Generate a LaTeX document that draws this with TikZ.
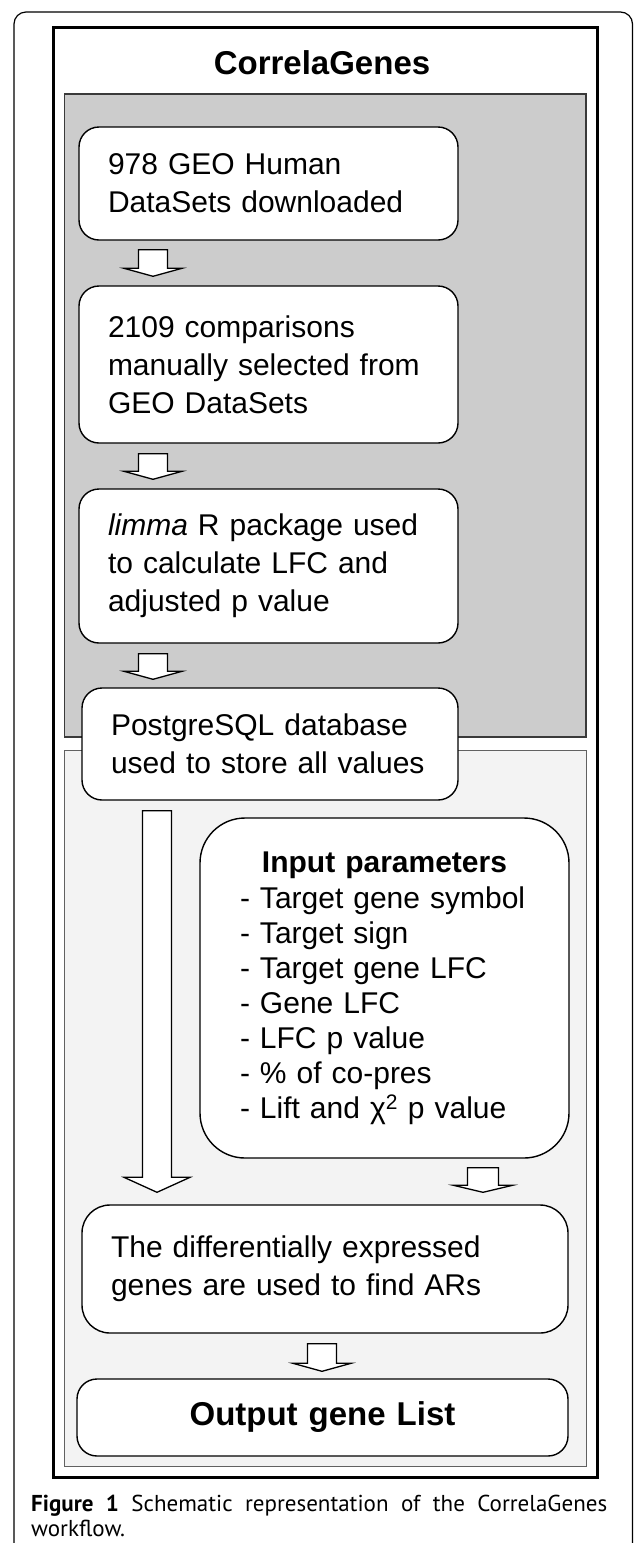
\documentclass[tikz,border=0pt]{standalone}
\usepackage{fontspec}
\setmainfont{Liberation Sans}
\newfontfamily\capfont{PT Sans}
\usetikzlibrary{calc}
\definecolor{darkreg}{HTML}{CCCCCC}
\definecolor{lightreg}{HTML}{F3F3F3}
\definecolor{regline}{HTML}{3A3A3A}
\tikzset{
  box/.style={draw=black, line width=1.4pt, fill=white, rounded corners=20pt,
    align=left, inner ysep=0pt, inner xsep=29pt,
    font=\fontsize{30}{38}\selectfont},
  blk/.style={draw=black, line width=1.3pt, fill=white, line join=miter},
  captext/.style={anchor=base west, inner sep=0pt, font=\capfont\fontsize{23}{27}\selectfont},
}
% #1 from node, #2 to node, #3 x, #4 shaft half width, #5 head half width,
% #6 head height, #7 gap below source, #8 gap above target
\newcommand\blkarrow[8]{%
  \path[blk] let \p1=(#1.south), \p2=(#2.north) in
    (#3pt-#4pt,\y1-#7pt) -- (#3pt+#4pt,\y1-#7pt) -- (#3pt+#4pt,\y2+#8pt+#6pt)
    -- (#3pt+#5pt,\y2+#8pt+#6pt) -- (#3pt,\y2+#8pt) -- (#3pt-#5pt,\y2+#8pt+#6pt)
    -- (#3pt-#4pt,\y2+#8pt+#6pt) -- cycle;}
\begin{document}
\begin{tikzpicture}[x=1pt,y=-1pt]
\useasboundingbox (0,0) rectangle (633,1543);
\begin{scope}
  \clip (0,0) rectangle (633,1543);
  \draw[line width=1.2pt, rounded corners=12pt] (14,1600) -- (14,12) -- (632.5,12) -- (632.5,1600);
\end{scope}
% frames and regions
\draw[line width=3pt] (53,27) rectangle (597,1477);
\draw[fill=darkreg, draw=regline, line width=1.2pt] (64.5,94) rectangle (586,737);
\draw[fill=lightreg, draw=regline!80, line width=1pt] (64.5,750) rectangle (586,1466);
% title
\node[font=\bfseries\fontsize{33}{40}\selectfont] (title) at (322,63) {CorrelaGenes};
% boxes
\node[box, text width=321pt, minimum height=113pt] (b1) at (268.5,183.5)
  {978 GEO Human\\DataSets downloaded};
\node[box, text width=321pt, minimum height=157pt] (b2) at (268.5,364.5)
  {2109 comparisons\\manually selected from\\GEO DataSets};
\node[box, text width=321pt, minimum height=154pt] (b3) at (268.5,566)
  {\textit{limma} R package used\\to calculate LFC and\\adjusted p value};
\node[box, text width=318pt, minimum height=112pt] (b4) at (270,744)
  {PostgreSQL database\\used to store all values};
\node[box, rounded corners=45pt, inner xsep=40pt, text width=289pt, minimum height=340pt,
  font=\fontsize{30}{35}\selectfont] (inp) at (384.5,988)
  {\makebox[289pt][c]{\bfseries Input parameters}\\[1pt]
   - Target gene symbol\\
   - Target sign\\
   - Target gene LFC\\
   - Gene LFC\\
   - LFC p value\\
   - \% of co-pres\\
   - Lift and χ\textsuperscript{2} p value};
\node[box, rounded corners=28pt, text width=428pt, minimum height=128pt] (b5) at (325,1269)
  {The differentially expressed\\genes are used to find ARs\par\vspace{12pt}};
\node[box, align=center, inner xsep=0pt, text width=491pt, minimum height=77pt,
  font=\bfseries\fontsize{33}{40}\selectfont] (b6) at (322.5,1417.5) {Output gene List};
% block arrows
\blkarrow{b1}{b2}{153}{14.5}{29}{8}{9}{9}
\blkarrow{b2}{b3}{153}{14.5}{29}{8}{10}{9}
\blkarrow{b3}{b4}{153}{14.5}{29}{8}{10}{8}
\blkarrow{b4}{b5}{157}{14.5}{33}{15}{10}{12}
\blkarrow{inp}{b5}{483}{15.5}{29.5}{7}{9}{12}
\blkarrow{b5}{b6}{322}{14.5}{29}{8}{10}{7}
% caption
\node[captext] (cap1) at (31,1511)
  {\hbox to 576pt{\textbf{Figure}\hfill\textbf{1}\hfill Schematic\hfill representation\hfill of\hfill the\hfill CorrelaGenes}};
\node[captext] (cap2) at (31,1536) {workflow.};
\end{tikzpicture}
\end{document}
